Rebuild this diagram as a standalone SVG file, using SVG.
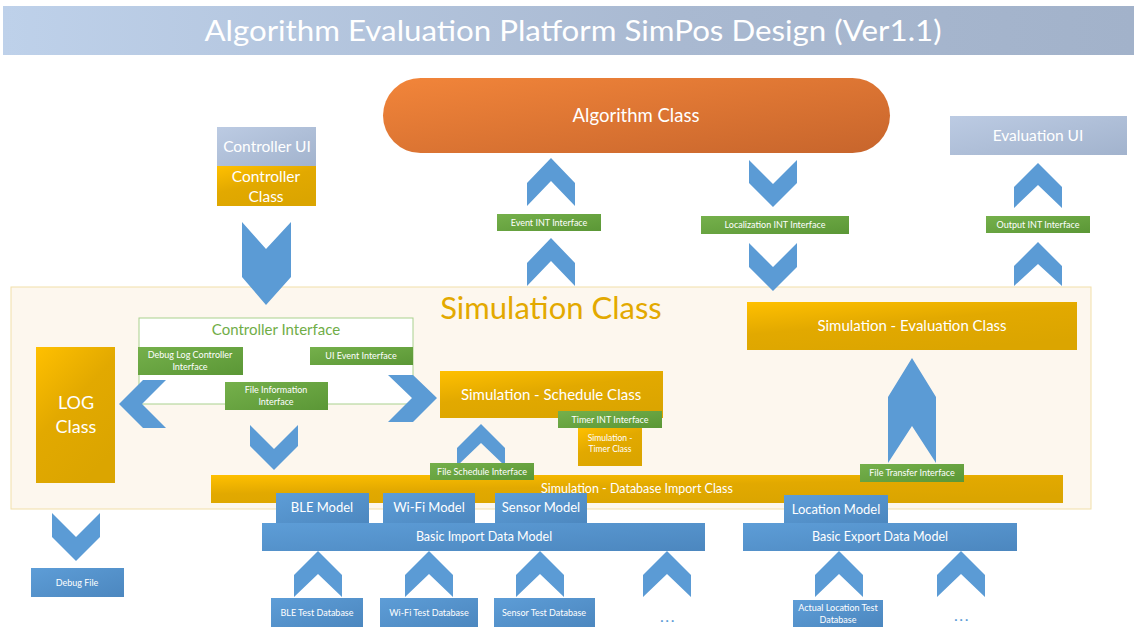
<svg xmlns="http://www.w3.org/2000/svg" width="1134" height="627" viewBox="0 0 1134 627">
  <defs>
    <linearGradient id="gTitle" x1="0" y1="0" x2="1" y2="0">
      <stop offset="0" stop-color="#bed1ea"/>
      <stop offset="0.6" stop-color="#a9b9d1"/>
      <stop offset="1" stop-color="#a2b2ca"/>
    </linearGradient>
    <linearGradient id="gOrange" x1="0" y1="0" x2="1" y2="1">
      <stop offset="0" stop-color="#f2853a"/>
      <stop offset="1" stop-color="#c7652c"/>
    </linearGradient>
    <linearGradient id="gGold" x1="0" y1="0" x2="0.6" y2="1">
      <stop offset="0" stop-color="#ffc000"/>
      <stop offset="0.5" stop-color="#e2a900"/>
      <stop offset="1" stop-color="#dba500"/>
    </linearGradient>
    <linearGradient id="gBlue" x1="0" y1="0" x2="1" y2="1">
      <stop offset="0" stop-color="#5d9dd7"/>
      <stop offset="1" stop-color="#4c87bf"/>
    </linearGradient>
    <linearGradient id="gGreen" x1="0" y1="0" x2="1" y2="1">
      <stop offset="0" stop-color="#75b04b"/>
      <stop offset="1" stop-color="#5b9736"/>
    </linearGradient>
    <linearGradient id="gUI" x1="0" y1="0" x2="1" y2="1">
      <stop offset="0" stop-color="#bccbe3"/>
      <stop offset="1" stop-color="#a2b3cd"/>
    </linearGradient>
  </defs>
  <style>
    text { font-family: Lato, "Open Sans", "Liberation Sans", sans-serif; fill: #ffffff; text-anchor: middle; }
    .gold { fill: url(#gGold); }
    .blue { fill: url(#gBlue); }
    .green { fill: url(#gGreen); }
    .ui { fill: url(#gUI); }
    .arrow { fill: #5b9bd5; }
    .t9 { font-size: 9px; }
    .t8 { font-size: 8.5px; }
    .t12 { font-size: 12.5px; }
    .t13 { font-size: 13px; }
    .t15 { font-size: 15px; }
    .more { font-size: 16px; fill: #5b9bd5; letter-spacing: 1.5px; }
  </style>

  <rect width="1134" height="627" fill="#ffffff"/>

  <!-- title banner -->
  <g id="title">
    <rect x="3" y="6" width="1131" height="49" fill="url(#gTitle)"/>
    <text x="573" y="41" style="font-size:29px" textLength="737" lengthAdjust="spacingAndGlyphs">Algorithm Evaluation Platform SimPos Design (Ver1.1)</text>
  </g>

  <!-- simulation class container -->
  <g id="simulation-class">
    <rect x="11" y="287" width="1080" height="222" fill="#fdf7ee" stroke="#f1dfaa" stroke-width="1"/>
    <text x="551" y="319" style="font-size:31px; fill:#e3a900">Simulation Class</text>
  </g>

  <g id="controller-interface">
    <rect x="139" y="318" width="274" height="86" fill="#ffffff" stroke="#a9d18e" stroke-width="1"/>
    <text x="276" y="335" class="t15" style="fill:#70ad47">Controller Interface</text>
  </g>

  <!-- block arrows between components -->
  <g id="connectors">
    <!-- controller class -> simulation class -->
    <polygon class="arrow" points="242,222 266,249 291,222 291,277 266,305 242,277"/>
    <!-- event INT up to algorithm -->
    <polygon class="arrow" points="527,206 527,183 551,158 575,183 575,206 551,181"/>
    <polygon class="arrow" points="527,286 527,263 551,238 575,263 575,286 551,261"/>
    <!-- localization INT down from algorithm -->
    <polygon class="arrow" points="749,160 773,184 797,160 797,183 773,207 749,183"/>
    <polygon class="arrow" points="749,243 773,267 797,243 797,267 773,291 749,267"/>
    <!-- output INT up to evaluation UI -->
    <polygon class="arrow" points="1014,208 1014,187 1038,163 1062,187 1062,208 1038,185"/>
    <polygon class="arrow" points="1014,286 1014,266 1038,242 1062,266 1062,286 1038,264"/>
    <!-- controller interface -> LOG class -->
    <polygon class="arrow" points="119,404 143,380 166,380 142,404 166,428 143,428"/>
    <!-- controller interface -> schedule class -->
    <polygon class="arrow" points="437,398 413,375 388,375 412,398 388,422 413,422"/>
    <!-- file information -> database import -->
    <polygon class="arrow" points="250,425 274,449 298,425 298,446 274,470 250,446"/>
    <!-- file schedule -> schedule class -->
    <polygon class="arrow" points="457,466 457,448 481,424 505,448 505,466 481,443"/>
    <!-- file transfer -> evaluation class -->
    <polygon class="arrow" points="888,463 888,397 912,358 936,397 936,463 912,426"/>
    <!-- LOG class -> debug file -->
    <polygon class="arrow" points="52,513 76,537 100,513 100,537 76,561 52,537"/>
    <!-- test databases -> data models -->
    <polygon class="arrow" points="294,597 294,575 318,551 342,575 342,597 318,574"/>
    <polygon class="arrow" points="405,597 405,575 429,551 453,575 453,597 429,574"/>
    <polygon class="arrow" points="516,597 516,575 540,551 564,575 564,597 540,574"/>
    <polygon class="arrow" points="643,597 643,575 667,551 691,575 691,597 667,574"/>
    <polygon class="arrow" points="815,597 815,575 839,551 863,575 863,597 839,574"/>
    <polygon class="arrow" points="937,597 937,575 961,551 985,575 985,597 961,574"/>
  </g>

  <g id="algorithm-class">
    <rect x="383" y="78" width="507" height="75" rx="37.5" fill="url(#gOrange)"/>
    <text x="636" y="122" style="font-size:18.5px">Algorithm Class</text>
  </g>

  <g id="controller-ui">
    <rect x="217" y="127" width="99" height="39" class="ui"/>
    <text x="267" y="152" style="font-size:15.5px">Controller UI</text>
  </g>
  <g id="controller-class">
    <rect x="217" y="166" width="99" height="40" class="gold"/>
    <text x="266" y="182" style="font-size:15.5px">Controller</text>
    <text x="266" y="202" style="font-size:15.5px">Class</text>
  </g>

  <g id="evaluation-ui">
    <rect x="950" y="116" width="177" height="39" class="ui"/>
    <text x="1038" y="141" style="font-size:15.5px">Evaluation UI</text>
  </g>

  <g id="event-int-interface">
    <rect x="497" y="214" width="104" height="17" class="green"/>
    <text x="549" y="225.5" class="t9">Event INT Interface</text>
  </g>
  <g id="localization-int-interface">
    <rect x="701" y="216" width="148" height="18" class="green"/>
    <text x="775" y="228" class="t9">Localization INT Interface</text>
  </g>
  <g id="output-int-interface">
    <rect x="986" y="216" width="104" height="17" class="green"/>
    <text x="1038" y="227.5" class="t9">Output INT Interface</text>
  </g>

  <g id="debug-log-controller-interface">
    <rect x="138" y="347" width="105" height="28" class="green"/>
    <text x="190" y="358" class="t9">Debug Log Controller</text>
    <text x="190" y="370" class="t9">Interface</text>
  </g>
  <g id="ui-event-interface">
    <rect x="310" y="347" width="103" height="18" class="green"/>
    <text x="361" y="359" class="t9">UI Event Interface</text>
  </g>
  <g id="file-information-interface">
    <rect x="225" y="382" width="103" height="28" class="green"/>
    <text x="276" y="393" class="t9">File Information</text>
    <text x="276" y="405" class="t9">Interface</text>
  </g>

  <g id="log-class">
    <rect x="36" y="347" width="79" height="136" class="gold"/>
    <text x="76" y="409" style="font-size:18px">LOG</text>
    <text x="76" y="433" style="font-size:18px">Class</text>
  </g>

  <g id="schedule-class">
    <rect x="440" y="371" width="223" height="47" class="gold"/>
    <text x="551" y="400" class="t15">Simulation - Schedule Class</text>
  </g>
  <g id="timer-int-interface">
    <rect x="558" y="411" width="104" height="17" class="green"/>
    <text x="610" y="422.5" class="t9">Timer INT Interface</text>
  </g>
  <g id="timer-class">
    <rect x="578" y="428" width="64" height="38" class="gold"/>
    <text x="610" y="441" class="t8">Simulation -</text>
    <text x="610" y="452" class="t8">Timer Class</text>
  </g>

  <g id="evaluation-class">
    <rect x="747" y="302" width="330" height="48" class="gold"/>
    <text x="912" y="331" class="t15">Simulation - Evaluation Class</text>
  </g>

  <g id="database-import-class">
    <rect x="211" y="475" width="852" height="28" class="gold"/>
    <text x="637" y="493" class="t12">Simulation - Database Import Class</text>
  </g>
  <g id="file-schedule-interface">
    <rect x="430" y="463" width="104" height="17" class="green"/>
    <text x="482" y="474.5" class="t9">File Schedule Interface</text>
  </g>
  <g id="file-transfer-interface">
    <rect x="860" y="464" width="104" height="18" class="green"/>
    <text x="912" y="476" class="t9">File Transfer Interface</text>
  </g>

  <g id="ble-model">
    <rect x="276" y="493" width="93" height="31" class="blue"/>
    <text x="322" y="512" class="t13">BLE Model</text>
  </g>
  <g id="wifi-model">
    <rect x="383" y="493" width="92" height="31" class="blue"/>
    <text x="429" y="512" class="t13">Wi-Fi Model</text>
  </g>
  <g id="sensor-model">
    <rect x="495" y="493" width="92" height="31" class="blue"/>
    <text x="541" y="512" class="t13">Sensor Model</text>
  </g>
  <g id="basic-import-data-model">
    <rect x="262" y="523" width="443" height="28" class="blue"/>
    <text x="484" y="541" class="t12">Basic Import Data Model</text>
  </g>

  <g id="location-model">
    <rect x="784" y="495" width="104" height="29" class="blue"/>
    <text x="836" y="514" class="t13">Location Model</text>
  </g>
  <g id="basic-export-data-model">
    <rect x="743" y="523" width="274" height="28" class="blue"/>
    <text x="880" y="541" class="t12">Basic Export Data Model</text>
  </g>

  <g id="debug-file">
    <rect x="31" y="568" width="93" height="29" class="blue"/>
    <text x="77" y="586" class="t9">Debug File</text>
  </g>

  <g id="ble-test-database">
    <rect x="271" y="598" width="92" height="29" class="blue"/>
    <text x="317" y="616" class="t9">BLE Test Database</text>
  </g>
  <g id="wifi-test-database">
    <rect x="380" y="598" width="98" height="29" class="blue"/>
    <text x="429" y="616" class="t9">Wi-Fi Test Database</text>
  </g>
  <g id="sensor-test-database">
    <rect x="494" y="598" width="101" height="29" class="blue"/>
    <text x="544" y="616" class="t9">Sensor Test Database</text>
  </g>
  <g id="import-more">
    <text x="668" y="622" class="more">...</text>
  </g>
  <g id="actual-location-test-database">
    <rect x="793" y="600" width="90" height="27" class="blue"/>
    <text x="838" y="611" class="t9">Actual Location Test</text>
    <text x="838" y="623" class="t9">Database</text>
  </g>
  <g id="export-more">
    <text x="962" y="621" class="more">...</text>
  </g>
</svg>
